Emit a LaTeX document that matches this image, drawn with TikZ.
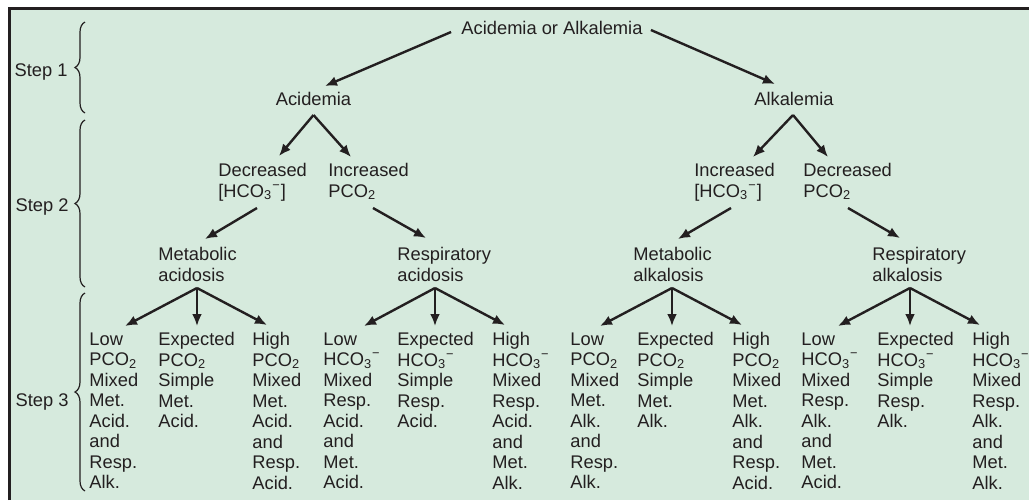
\documentclass[tikz,border=0pt]{standalone}
\usepackage{fontspec}
\setmainfont{Liberation Sans}
\usetikzlibrary{arrows.meta,decorations.pathreplacing}
\definecolor{panel}{RGB}{214,234,221}
\definecolor{ink}{RGB}{35,31,32}
\newcommand{\pco}{PCO\textsubscript{2}}
\newcommand{\hco}{HCO\textsubscript{3}\textsuperscript{−}}

\begin{document}
\begin{tikzpicture}[x=0.5pt,y=-0.5pt,>={Latex[length=6pt,width=5pt]},
    every node/.style={inner sep=0pt,text=ink,font=\fontsize{9.15}{10.25}\selectfont},
    lbl/.style={anchor=north west,align=left},
    arr/.style={->,line width=1.2pt,draw=ink},
    stepbrace/.style={decorate,decoration={brace,amplitude=5pt},line width=0.6pt,draw=ink}]
\useasboundingbox (0,0) rectangle (1029,500);
\fill[panel] (9,8) rectangle (1029,500);
\draw[ink,line width=1.5pt] (9,500) -- (9,8) -- (1029,8);

% steps
\draw[stepbrace] (85,113) -- (85,22);
\draw[stepbrace] (85,287) -- (85,120);
\draw[stepbrace] (85,491) -- (85,293);
\node (s1) at (68,76) [anchor=base east] {Step 1};
\node (s2) at (69,211) [anchor=base east] {Step 2};
\node (s3) at (69,406) [anchor=base east] {Step 3};

% step 1
\node (top) at (552,34) [anchor=base] {Acidemia or Alkalemia};
\node (acid) at (313.5,105) [anchor=base] {Acidemia};
\node (alk) at (794,105) [anchor=base] {Alkalemia};
\draw[arr] ([shift={(-10,-2)}]top.base west) -- ([shift={(11.5,-19)}]acid.base);
\draw[arr] ([shift={(8,-4)}]top.base east) -- ([shift={(-19,-21)}]alk.base);

% step 2
\node (decH) at (218,163) [lbl] {Decreased\\{[}\hco{]}};
\node (incP) at (328,163) [lbl] {Increased\\\pco};
\node (incH) at (694,163) [lbl] {Increased\\{[}\hco{]}};
\node (decP) at (803,163) [lbl] {Decreased\\\pco};
\draw[arr] ([shift={(0,10)}]acid.base) -- ([shift={(61,-7)}]decH.north west);
\draw[arr] ([shift={(0,10)}]acid.base) -- ([shift={(23,-6)}]incP.north west);
\draw[arr] ([shift={(-1,10)}]alk.base) -- ([shift={(59,-6)}]incH.north west);
\draw[arr] ([shift={(-1,10)}]alk.base) -- ([shift={(25,-6)}]decP.north west);

\node (metAc) at (158,247) [lbl] {Metabolic\\acidosis};
\node (resAc) at (397,247) [lbl] {Respiratory\\acidosis};
\node (metAl) at (633,247) [lbl] {Metabolic\\alkalosis};
\node (resAl) at (872,247) [lbl] {Respiratory\\alkalosis};
\draw[arr] ([shift={(39,45)}]decH.north west) -- ([shift={(47,-8)}]metAc.north west);
\draw[arr] ([shift={(45,45)}]incP.north west) -- ([shift={(29,-9)}]resAc.north west);
\draw[arr] ([shift={(37,45)}]incH.north west) -- ([shift={(45,-8)}]metAl.north west);
\draw[arr] ([shift={(45,45)}]decP.north west) -- ([shift={(28,-9)}]resAl.north west);

% step 3
\node (maLow) at (89,332) [lbl] {Low\\\pco\\Mixed\\Met.\\Acid.\\and\\Resp.\\Alk.};
\node (maExp) at (158,332) [lbl] {Expected\\\pco\\Simple\\Met.\\Acid.};
\node (maHigh) at (252,332) [lbl] {High\\\pco\\Mixed\\Met.\\Acid.\\and\\Resp.\\Acid.};
\node (raLow) at (323,332) [lbl] {Low\\\hco\\Mixed\\Resp.\\Acid.\\and\\Met.\\Acid.};
\node (raExp) at (397,332) [lbl] {Expected\\\hco\\Simple\\Resp.\\Acid.};
\node (raHigh) at (492,332) [lbl] {High\\\hco\\Mixed\\Resp.\\Acid.\\and\\Met.\\Alk.};
\node (mkLow) at (570,332) [lbl] {Low\\\pco\\Mixed\\Met.\\Alk.\\and\\Resp.\\Alk.};
\node (mkExp) at (637,332) [lbl] {Expected\\\pco\\Simple\\Met.\\Alk.};
\node (mkHigh) at (732,332) [lbl] {High\\\pco\\Mixed\\Met.\\Alk.\\and\\Resp.\\Acid.};
\node (rkLow) at (801,332) [lbl] {Low\\\hco\\Mixed\\Resp.\\Alk.\\and\\Met.\\Acid.};
\node (rkExp) at (877,332) [lbl] {Expected\\\hco\\Simple\\Resp.\\Alk.};
\node (rkHigh) at (972,332) [lbl] {High\\\hco\\Mixed\\Resp.\\Alk.\\and\\Met.\\Alk.};

\draw[arr] ([shift={(39,41)}]metAc.north west) -- ([shift={(36,-6)}]maLow.north west);
\draw[arr] ([shift={(39,41)}]metAc.north west) -- ([shift={(39,-6)}]maExp.north west);
\draw[arr] ([shift={(39,41)}]metAc.north west) -- ([shift={(15,-7)}]maHigh.north west);
\draw[arr] ([shift={(38,41)}]resAc.north west) -- ([shift={(41,-6)}]raLow.north west);
\draw[arr] ([shift={(38,41)}]resAc.north west) -- ([shift={(38,-6)}]raExp.north west);
\draw[arr] ([shift={(38,41)}]resAc.north west) -- ([shift={(13,-7)}]raHigh.north west);
\draw[arr] ([shift={(39,41)}]metAl.north west) -- ([shift={(30,-6)}]mkLow.north west);
\draw[arr] ([shift={(39,41)}]metAl.north west) -- ([shift={(35,-6)}]mkExp.north west);
\draw[arr] ([shift={(39,41)}]metAl.north west) -- ([shift={(10,-7)}]mkHigh.north west);
\draw[arr] ([shift={(38,41)}]resAl.north west) -- ([shift={(37,-6)}]rkLow.north west);
\draw[arr] ([shift={(38,41)}]resAl.north west) -- ([shift={(33,-6)}]rkExp.north west);
\draw[arr] ([shift={(38,41)}]resAl.north west) -- ([shift={(8,-7)}]rkHigh.north west);
\end{tikzpicture}
\end{document}
